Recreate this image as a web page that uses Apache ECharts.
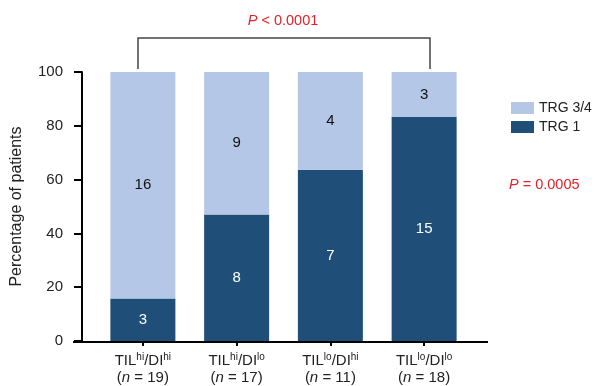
<!DOCTYPE html>
<html><head><meta charset="utf-8">
<script src="https://cdn.jsdelivr.net/npm/echarts@6/dist/echarts.min.js"></script>
<style>html,body{margin:0;padding:0;background:#fff}#c{width:595px;height:386px}</style>
</head><body><div id="c"></div>
<script>
const tilSup = ['hi', 'hi', 'lo', 'lo'];
const diSup = ['hi', 'lo', 'hi', 'lo'];
const groupN = [19, 17, 11, 18];
const trg1Counts = [3, 8, 7, 15];
const trg34Counts = [16, 9, 4, 3];
const yTicks = [0, 20, 40, 60, 80, 100];
const categories = ['TIL hi/DI hi', 'TIL hi/DI lo', 'TIL lo/DI hi', 'TIL lo/DI lo'];

const trg1Pct = trg1Counts.map((c, i) => c / groupN[i] * 100);
const trg34Pct = trg34Counts.map((c, i) => c / groupN[i] * 100);

const FONT = 'Liberation Sans, Arial, sans-serif';
const chart = echarts.init(document.getElementById('c'));
chart.setOption({
  animation: false,
  textStyle: { fontFamily: FONT },
  grid: { left: 96, right: 124, top: 72, bottom: 44 },
  legend: {
    data: ['TRG 3/4', 'TRG 1'], orient: 'vertical', left: 506, top: 96,
    itemWidth: 23, itemHeight: 12, itemGap: 5,
    textStyle: { fontSize: 14, color: '#222', fontFamily: FONT },
    icon: 'rect'
  },
  xAxis: {
    type: 'category', data: categories,
    axisLine: { show: false },
    axisTick: { show: true, alignWithLabel: true, length: 5, lineStyle: { color: '#000', width: 2 } },
    axisLabel: {
      interval: 0, margin: 11, color: '#222', fontSize: 15, lineHeight: 17,
      formatter: (v, i) => 'TIL{sup|' + tilSup[i] + '}/DI{sup|' + diSup[i] + '}\n({it|n} = ' + groupN[i] + ')',
      rich: {
        sup: { fontSize: 10, verticalAlign: 'top', lineHeight: 17, padding: [0, 0, 6, 0], color: '#222' },
        it: { fontStyle: 'italic', fontSize: 15, color: '#222' }
      }
    }
  },
  yAxis: {
    type: 'value', min: 0, max: 100, interval: 20, offset: 14,
    name: 'Percentage of patients', nameLocation: 'middle', nameGap: 57,
    nameTextStyle: { fontSize: 16, color: '#222' },
    axisLine: { show: true, lineStyle: { color: '#000', width: 2 } },
    axisTick: { show: true, length: 8, lineStyle: { color: '#000', width: 2 } },
    axisLabel: { color: '#222', fontSize: 15, margin: 19,
      formatter: v => yTicks.includes(v) ? String(v) : '' },
    splitLine: { show: false }
  },
  series: [
    {
      name: 'TRG 1', type: 'bar', stack: 'a', barWidth: 65,
      data: trg1Pct,
      itemStyle: { color: '#1f4e79' },
      label: { show: true, position: 'inside', color: '#fff', fontSize: 15,
        formatter: p => String(trg1Counts[p.dataIndex]) }
    },
    {
      name: 'TRG 3/4', type: 'bar', stack: 'a', barWidth: 65,
      data: trg34Pct,
      itemStyle: { color: '#b4c7e7' },
      label: { show: true, position: 'inside', color: '#111', fontSize: 15,
        formatter: p => String(trg34Counts[p.dataIndex]) }
    }
  ],
  graphic: [
    { type: 'line', shape: { x1: 73, y1: 342, x2: 488, y2: 342 }, style: { stroke: '#000', lineWidth: 2 } },
    { type: 'polyline', shape: { points: [[138, 69], [138, 38], [430, 38], [430, 69]] }, style: { stroke: '#444', lineWidth: 1.5, fill: null } },
    { type: 'text', x: 283, y: 21, style: { text: '{i|P} < 0.0001', rich: { i: { fontStyle: 'italic', fill: '#e8202a', fontSize: 14.5, fontFamily: FONT } }, fill: '#e8202a', fontSize: 14.5, fontFamily: FONT, align: 'center', verticalAlign: 'middle' } },
    { type: 'text', x: 509, y: 185, style: { text: '{i|P} = 0.0005', rich: { i: { fontStyle: 'italic', fill: '#e8202a', fontSize: 14.5, fontFamily: FONT } }, fill: '#e8202a', fontSize: 14.5, fontFamily: FONT, align: 'left', verticalAlign: 'middle' } }
  ]
});
</script></body></html>
